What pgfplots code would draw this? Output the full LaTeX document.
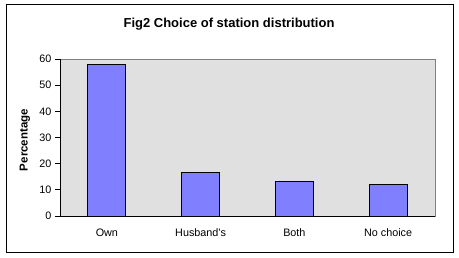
\documentclass[border=0pt]{standalone}
\usepackage{fontspec}
\setmainfont{Liberation Sans}
\usepackage{pgfplots}
\pgfplotsset{compat=1.18}
\definecolor{barc}{RGB}{128,128,255}
\definecolor{bgc}{RGB}{224,224,224}
\definecolor{framec}{RGB}{128,128,128}
\begin{document}
\begin{tikzpicture}
\path[fill=white] (0,0) rectangle (459bp,258bp);
\draw[black, line width=1bp] (6bp,5bp) rectangle (453.5bp,253bp);
\begin{axis}[
  at={(60bp,42bp)}, anchor=south west,
  scale only axis, width=375bp, height=157bp,
  xmin=-0.5, xmax=3.5, ymin=0, ymax=60,
  axis x line*=bottom, axis y line*=left,
  axis line style={black, line width=0.8bp, -},
  axis background/.style={fill=bgc, draw=framec, line width=1bp},
  ytick={0,10,...,60},
  xtick=data,
  xticklabels={Own,Husband's,Both,No choice},
  major x tick style={draw=none},
  extra x ticks={-0.5,0.5,1.5,2.5,3.5},
  extra x tick labels={},
  extra x tick style={tick align=outside, major tick length=4bp, tick style={black, line width=0.8bp}},
  tick align=outside,
  major tick length=5bp,
  tick style={black, line width=0.8bp},
  /pgf/number format/assume math mode=true,
  tick label style={font=\fontsize{10.8bp}{12bp}\selectfont},
  xticklabel style={yshift=-4bp},
  ylabel={Percentage},
  ylabel style={font=\bfseries\fontsize{11.5bp}{13bp}\selectfont, at={(axis description cs:-0.0933,0.484)}, anchor=center},
  every axis title shift=0pt,
  title={Fig2 Choice of station distribution},
  title style={font=\bfseries\fontsize{13bp}{15bp}\selectfont, at={(axis description cs:0.4507,1.2357)}, anchor=center, yshift=-2bp},
  ybar, bar width=38bp,
]
\addplot[fill=barc, draw=black, line width=1bp] coordinates {(0,57.9) (1,16.7) (2,13.3) (3,12.1)};
\end{axis}
\end{tikzpicture}
\end{document}
